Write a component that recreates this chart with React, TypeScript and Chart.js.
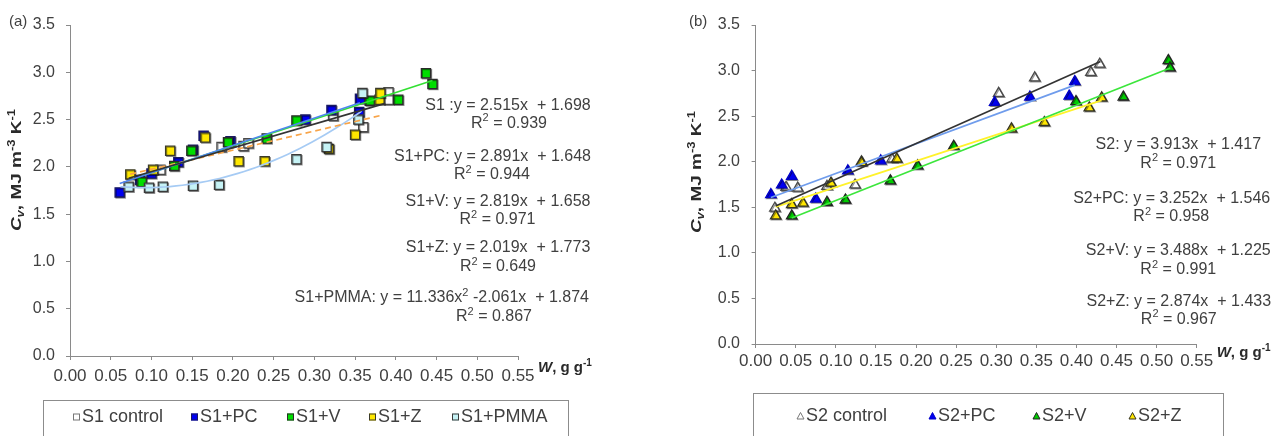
import React, { useEffect, useRef } from 'react';
import { Chart, registerables } from 'chart.js';

Chart.register(...registerables);

const FONT = '"Liberation Sans", Arial, Helvetica, sans-serif';
const TEXT_COLOR = '#404040';
const AXIS_COLOR = '#8a8a8a';

const X_TICKS = [0, 0.05, 0.1, 0.15, 0.2, 0.25, 0.3, 0.35, 0.4, 0.45, 0.5, 0.55];
const Y_TICKS = [0, 0.5, 1, 1.5, 2, 2.5, 3, 3.5];

// ---------- Panel (a): S1 ----------
const S1_LABELS = ['S1 control', 'S1+PC', 'S1+V', 'S1+Z', 'S1+PMMA'];
const S1_CONTROL_X = [0.111, 0.186, 0.213, 0.219, 0.323, 0.36, 0.391, 0.391];
const S1_CONTROL_Y = [1.97, 2.21, 2.22, 2.25, 2.54, 2.42, 2.79, 2.71];
const S1_PC_X = [0.061, 0.086, 0.1, 0.133, 0.151, 0.164, 0.197, 0.289, 0.321, 0.355, 0.356];
const S1_PC_Y = [1.73, 1.86, 1.93, 2.05, 2.18, 2.33, 2.27, 2.5, 2.6, 2.58, 2.72];
const S1_V_X = [0.088, 0.128, 0.149, 0.194, 0.2415, 0.278, 0.368, 0.403, 0.437, 0.445];
const S1_V_Y = [1.84, 2.01, 2.17, 2.26, 2.3, 2.49, 2.7, 2.71, 2.99, 2.875];
const S1_Z_X = [0.074, 0.102, 0.123, 0.166, 0.207, 0.239, 0.318, 0.35, 0.38, 0.381];
const S1_Z_Y = [1.92, 1.97, 2.17, 2.31, 2.06, 2.06, 2.19, 2.34, 2.71, 2.78];
const S1_PMMA_X = [0.072, 0.097, 0.114, 0.151, 0.183, 0.278, 0.315, 0.354, 0.359];
const S1_PMMA_Y = [1.79, 1.78, 1.79, 1.8, 1.81, 2.08, 2.21, 2.5, 2.78];

// trend-line coefficients as printed in the chart: [c0, c1, c2] for c0 + c1 x + c2 x^2
const S1_FITS = [[1.698, 2.515], [1.648, 2.891], [1.658, 2.819], [1.773, 2.019], [1.874, -2.061, 11.336]];
const S1_FIT_RANGES = [[0.072, 0.387], [0.061, 0.356], [0.088, 0.445], [0.074, 0.383], [0.062, 0.358]];
const S1_EQUATIONS = [
  'S1 :y = 2.515x  + 1.698',
  'S1+PC: y = 2.891x  + 1.648',
  'S1+V: y = 2.819x  + 1.658',
  'S1+Z: y = 2.019x  + 1.773',
  'S1+PMMA: y = 11.336x^{2} -2.061x  + 1.874',
];
const S1_R2 = ['0.939', '0.944', '0.971', '0.649', '0.867'];

// ---------- Panel (b): S2 ----------
const S2_LABELS = ['S2 control', 'S2+PC', 'S2+V', 'S2+Z'];
const S2_CONTROL_X = [0.024, 0.038, 0.0525, 0.089, 0.124, 0.132, 0.17, 0.303, 0.348, 0.418, 0.429];
const S2_CONTROL_Y = [1.49, 1.72, 1.71, 1.73, 1.745, 2.0, 2.03, 2.75, 2.92, 2.98, 3.07];
const S2_PC_X = [0.019, 0.0325, 0.045, 0.075, 0.115, 0.156, 0.298, 0.342, 0.391, 0.398];
const S2_PC_Y = [1.64, 1.745, 1.84, 1.59, 1.9, 2.01, 2.65, 2.71, 2.72, 2.88];
const S2_V_X = [0.045, 0.089, 0.112, 0.168, 0.202, 0.247, 0.3995, 0.4585, 0.5146, 0.5167];
const S2_V_Y = [1.405, 1.555, 1.58, 1.79, 1.955, 2.17, 2.66, 2.71, 3.11, 3.03];
const S2_Z_X = [0.025, 0.045, 0.059, 0.094, 0.132, 0.176, 0.319, 0.36, 0.416, 0.4315];
const S2_Z_Y = [1.405, 1.53, 1.545, 1.765, 1.99, 2.03, 2.36, 2.43, 2.59, 2.7];

const S2_FITS = [[1.417, 3.913], [1.546, 3.252], [1.225, 3.488], [1.433, 2.874]];
const S2_FIT_RANGES = [[0.025, 0.43], [0.019, 0.398], [0.045, 0.517], [0.025, 0.4315]];
const S2_EQUATIONS = [
  'S2: y = 3.913x  + 1.417',
  'S2+PC: y = 3.252x  + 1.546',
  'S2+V: y = 3.488x  + 1.225',
  'S2+Z: y = 2.874x  + 1.433',
];
const S2_R2 = ['0.971', '0.958', '0.991', '0.967'];

type Seg = { t: string; sup?: boolean; sub?: boolean; it?: boolean };

const Y_TITLE: Seg[] = [
  { t: 'C', it: true },
  { t: 'v', sub: true, it: true },
  { t: ', MJ m' },
  { t: '-3', sup: true },
  { t: ' K' },
  { t: '-1', sup: true },
];
const X_TITLE: Seg[] = [{ t: 'W', it: true }, { t: ', g g' }, { t: '-1', sup: true }];

function parseRich(s: string): Seg[] {
  const out: Seg[] = [];
  const re = /([\^_])\{([^}]*)\}/g;
  let last = 0;
  let m: RegExpExecArray | null;
  while ((m = re.exec(s))) {
    if (m.index > last) out.push({ t: s.slice(last, m.index) });
    out.push({ t: m[2], sup: m[1] === '^', sub: m[1] === '_' });
    last = re.lastIndex;
  }
  if (last < s.length) out.push({ t: s.slice(last) });
  return out;
}

function drawRich(
  ctx: CanvasRenderingContext2D,
  segs: Seg[],
  x: number,
  y: number,
  size: number,
  weight: string,
  align: 'left' | 'center' | 'right',
  color: string
) {
  const fontFor = (s: Seg) =>
    `${s.it ? 'italic ' : ''}${weight} ${s.sup || s.sub ? Math.round(size * 0.68) : size}px ${FONT}`;
  const widths = segs.map((s) => {
    ctx.font = fontFor(s);
    return ctx.measureText(s.t).width;
  });
  const total = widths.reduce((a, b) => a + b, 0);
  let cx = align === 'center' ? x - total / 2 : align === 'right' ? x - total : x;
  ctx.fillStyle = color;
  ctx.textAlign = 'left';
  ctx.textBaseline = 'middle';
  segs.forEach((s, i) => {
    ctx.font = fontFor(s);
    const dy = s.sup ? -size * 0.33 : s.sub ? size * 0.3 : 0;
    ctx.fillText(s.t, cx, y + dy);
    cx += widths[i];
  });
}

function pts(xs: number[], ys: number[]) {
  return xs.map((x, i) => ({ x, y: ys[i] }));
}

function trend(coef: number[], range: number[]) {
  const n = coef.length > 2 ? 40 : 2;
  const out: { x: number; y: number }[] = [];
  for (let k = 0; k < n; k++) {
    const x = range[0] + ((range[1] - range[0]) * k) / (n - 1);
    let y = 0;
    coef.forEach((c, p) => {
      y += c * Math.pow(x, p);
    });
    out.push({ x, y });
  }
  return out;
}

interface Panel {
  id: string;
  tag: string;
  tagX: number;
  labels: string[];
  xs: number[][];
  ys: number[][];
  fits: number[][];
  ranges: number[][];
  style: 'rect' | 'triangle';
  radius: number;
  fills: string[];
  borders: string[];
  lines: string[];
  dashes: number[][];
  eqs: string[];
  r2: string[];
  eqPos: [number, number, 'left' | 'center' | 'right'][];
  r2Pos: [number, number][];
  padding: { left: number; top: number; right: number; bottom: number };
  yWidth: number;
  xPad: number;
  yPad: number;
  yTitle: [number, number];
  xTitle: [number, number];
  legendBox: [number, number, number, number];
  legendX: number[];
  legendY: number;
};

const PANEL_A: Panel = {
  id: 'a',
  tag: '(a)',
  tagX: 9,
  labels: S1_LABELS,
  xs: [S1_CONTROL_X, S1_PC_X, S1_V_X, S1_Z_X, S1_PMMA_X],
  ys: [S1_CONTROL_Y, S1_PC_Y, S1_V_Y, S1_Z_Y, S1_PMMA_Y],
  fits: S1_FITS,
  ranges: S1_FIT_RANGES,
  style: 'rect',
  radius: 6.5,
  fills: ['#ffffff', '#0000f0', '#00dd00', '#ffe800', '#c6f3f6'],
  borders: ['#4a4a4a', '#1a1a60', '#2a2a2a', '#3a3a2a', '#3a3a3a'],
  lines: ['#333333', '#4f86ee', '#33e033', '#f8a448', '#a6cbf4'],
  dashes: [[], [], [], [6, 4], []],
  eqs: S1_EQUATIONS,
  r2: S1_R2,
  eqPos: [
    [508, 106, 'center'],
    [492.5, 157, 'center'],
    [498, 202, 'center'],
    [498, 248, 'center'],
    [589, 298, 'right'],
  ],
  r2Pos: [
    [509, 123.5],
    [492, 175],
    [497.5, 220],
    [498, 267],
    [494, 317],
  ],
  padding: { left: 0, top: 25, right: 122, bottom: 40 },
  yWidth: 70,
  xPad: 6,
  yPad: 11,
  yTitle: [17, 170],
  xTitle: [538, 368],
  legendBox: [43.5, 400.5, 525, 40],
  legendX: [73, 191, 287, 369, 452],
  legendY: 417,
};

const PANEL_B: Panel = {
  id: 'b',
  tag: '(b)',
  tagX: 49,
  labels: S2_LABELS,
  xs: [S2_CONTROL_X, S2_PC_X, S2_V_X, S2_Z_X],
  ys: [S2_CONTROL_Y, S2_PC_Y, S2_V_Y, S2_Z_Y],
  fits: S2_FITS,
  ranges: S2_FIT_RANGES,
  style: 'triangle',
  radius: 6,
  fills: ['#ffffff', '#0000f0', '#00cc00', '#ffe600'],
  borders: ['#4a4a4a', '#0000c8', '#222222', '#333322'],
  lines: ['#333333', '#6f9cec', '#3ce63c', '#fff22a'],
  dashes: [[], [], [], []],
  eqs: S2_EQUATIONS,
  r2: S2_R2,
  eqPos: [
    [538.3, 145, 'center'],
    [531.7, 198.5, 'center'],
    [538.3, 251, 'center'],
    [538.8, 302, 'center'],
  ],
  r2Pos: [
    [538.3, 163.5],
    [531.3, 217],
    [538.3, 270],
    [538.8, 319.5],
  ],
  padding: { left: 0, top: 25, right: 88.3, bottom: 52 },
  yWidth: 115.6,
  xPad: 3,
  yPad: 11.6,
  yTitle: [57, 172],
  xTitle: [576.7, 353],
  legendBox: [113.5, 393.5, 470, 50],
  legendX: [157, 289, 393, 489],
  legendY: 416,
};

function annotationPlugin(p: Panel) {
  return {
    id: 'annot_' + p.id,
    afterDraw(chart: any) {
      const ctx: CanvasRenderingContext2D = chart.ctx;
      ctx.save();
      // panel tag
      drawRich(ctx, [{ t: p.tag }], p.tagX, 22, 15, 'normal', 'left', TEXT_COLOR);
      // equations
      p.eqs.forEach((e, i) => {
        const [ex, ey, al] = p.eqPos[i];
        drawRich(ctx, parseRich(e), ex, ey, 16, 'normal', al, TEXT_COLOR);
        const [rx, ry] = p.r2Pos[i];
        drawRich(ctx, parseRich('R^{2} = ' + p.r2[i]), rx, ry, 16, 'normal', 'center', TEXT_COLOR);
      });
      // y title
      ctx.save();
      ctx.translate(p.yTitle[0], p.yTitle[1]);
      ctx.rotate(-Math.PI / 2);
      ctx.scale(1, 0.8);
      drawRich(ctx, Y_TITLE, 0, 0, 19, 'bold', 'center', '#2a2a2a');
      ctx.restore();
      // x title
      drawRich(ctx, X_TITLE, p.xTitle[0], p.xTitle[1], 15, 'bold', 'left', '#2a2a2a');
      // legend box
      const [bx, by, bw, bh] = p.legendBox;
      ctx.strokeStyle = '#8c8c8c';
      ctx.lineWidth = 1;
      ctx.strokeRect(bx, by, bw, bh);
      p.labels.forEach((lab, i) => {
        const mx = p.legendX[i];
        const my = p.legendY;
        ctx.fillStyle = p.fills[i];
        ctx.strokeStyle = i === 0 ? '#777777' : p.borders[i];
        ctx.lineWidth = 1;
        if (p.style === 'rect') {
          ctx.fillRect(mx, my - 3.5, 7, 7);
          ctx.strokeRect(mx + 0.5, my - 3, 6, 6);
        } else {
          ctx.beginPath();
          ctx.moveTo(mx + 3.5, my - 3.5);
          ctx.lineTo(mx + 7, my + 3);
          ctx.lineTo(mx, my + 3);
          ctx.closePath();
          ctx.fill();
          ctx.stroke();
        }
        drawRich(ctx, [{ t: lab }], mx + 9, my, 18, 'normal', 'left', TEXT_COLOR);
      });
      ctx.restore();
    },
  };
}

const markerShadow = {
  id: 'markerShadow',
  beforeDatasetDraw(chart: any, args: any) {
    const ds = chart.data.datasets[args.index];
    if (ds.type === 'scatter') {
      chart.ctx.save();
      chart.ctx.shadowColor = 'rgba(0,0,0,0.4)';
      chart.ctx.shadowOffsetX = 1;
      chart.ctx.shadowOffsetY = 1;
      chart.ctx.shadowBlur = 0;
    }
  },
  afterDatasetDraw(chart: any, args: any) {
    const ds = chart.data.datasets[args.index];
    if (ds.type === 'scatter') chart.ctx.restore();
  },
};

function buildConfig(p: Panel): any {
  const n = p.labels.length;
  const scatter = p.labels.map((lab, i) => ({
    type: 'scatter',
    label: lab,
    data: pts(p.xs[i], p.ys[i]),
    pointStyle: p.style,
    pointRadius: p.radius,
    pointBackgroundColor: p.fills[i],
    pointBorderColor: p.borders[i],
    pointBorderWidth: 1.3,
    showLine: false,
    order: n - i + 1,
  }));
  const lines = p.labels.map((lab, i) => ({
    type: 'line',
    label: lab + ' trend',
    data: trend(p.fits[i], p.ranges[i]),
    borderColor: p.lines[i],
    borderWidth: 1.7,
    borderDash: p.dashes[i],
    pointRadius: 0,
    fill: false,
    tension: 0,
    order: 0,
  }));
  return {
    type: 'scatter',
    data: { datasets: [...scatter, ...lines] },
    options: {
      responsive: false,
      animation: false,
      events: [],
      layout: { padding: p.padding },
      plugins: { legend: { display: false }, tooltip: { enabled: false } },
      scales: {
        x: {
          type: 'linear',
          min: 0,
          max: 0.55,
          afterBuildTicks: (s: any) => {
            s.ticks = X_TICKS.map((v) => ({ value: v }));
          },
          afterFit: (s: any) => {
            s.height = 40;
          },
          ticks: {
            callback: (v: any) => Number(v).toFixed(2),
            font: { size: 17, family: FONT },
            color: TEXT_COLOR,
            padding: p.xPad,
            autoSkip: false,
            maxRotation: 0,
            minRotation: 0,
          },
          grid: { drawOnChartArea: false, drawTicks: true, tickLength: 4, color: AXIS_COLOR },
          border: { display: true, color: AXIS_COLOR, width: 1 },
        },
        y: {
          type: 'linear',
          min: 0,
          max: 3.5,
          afterBuildTicks: (s: any) => {
            s.ticks = Y_TICKS.map((v) => ({ value: v }));
          },
          afterFit: (s: any) => {
            s.width = p.yWidth;
          },
          ticks: {
            callback: (v: any) => Number(v).toFixed(1),
            font: { size: 16, family: FONT },
            color: TEXT_COLOR,
            padding: p.yPad,
            autoSkip: false,
          },
          grid: { drawOnChartArea: false, drawTicks: true, tickLength: 4, color: AXIS_COLOR },
          border: { display: true, color: AXIS_COLOR, width: 1 },
        },
      },
    },
    plugins: [markerShadow, annotationPlugin(p)],
  };
}

function PanelChart({ panel, left, width }: { panel: Panel; left: number; width: number }) {
  const ref = useRef<HTMLCanvasElement>(null);
  useEffect(() => {
    if (!ref.current) return;
    const chart = new Chart(ref.current, buildConfig(panel));
    return () => chart.destroy();
  }, [panel]);
  return (
    <canvas
      ref={ref}
      width={width}
      height={436}
      style={{ position: 'absolute', left, top: 0, width, height: 436 }}
    />
  );
}

export default function App() {
  useEffect(() => {
    document.body.style.margin = '0';
    document.body.style.background = '#ffffff';
  }, []);
  return (
    <div
      style={{
        position: 'absolute',
        left: 0,
        top: 0,
        width: 1285,
        height: 436,
        background: '#ffffff',
        overflow: 'hidden',
      }}
    >
      <PanelChart panel={PANEL_A} left={0} width={640} />
      <PanelChart panel={PANEL_B} left={640} width={645} />
    </div>
  );
}
